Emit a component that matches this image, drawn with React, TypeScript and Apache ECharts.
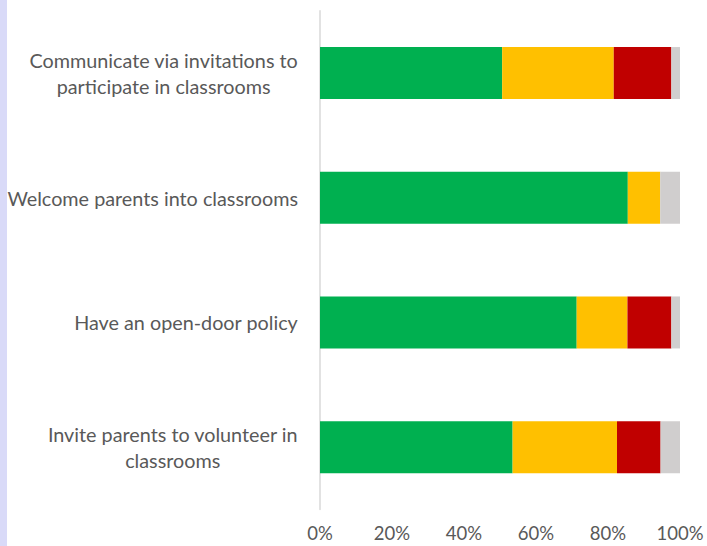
import React, { useEffect, useRef } from "react";
import * as echarts from "echarts";

const categories = [
  "Communicate via invitations to\nparticipate in classrooms",
  "Welcome parents into classrooms",
  "Have an open-door policy",
  "Invite parents to volunteer in\nclassrooms",
];
const greenValues = [50.6, 85.5, 71.3, 53.5];
const yellowValues = [31.0, 9.0, 14.1, 29.0];
const redValues = [16.0, 0, 12.2, 12.1];
const grayValues = [2.4, 5.5, 2.4, 5.4];
const xTicks = [0, 20, 40, 60, 80, 100];

const FONT = "Lato, 'Open Sans', sans-serif";

export default function App() {
  const ref = useRef<HTMLDivElement>(null);
  useEffect(() => {
    document.body.style.margin = "0";
    const chart = echarts.init(ref.current!, null, { renderer: "svg" });
    const mk = (name: string, data: number[], color: string) => ({
      name,
      type: "bar",
      stack: "total",
      data,
      barWidth: 52,
      itemStyle: { color },
    });
    chart.setOption({
      animation: false,
      backgroundColor: "#ffffff",
      textStyle: { fontFamily: FONT },
      graphic: [
        {
          type: "rect",
          left: 0,
          top: 0,
          shape: { x: 0, y: 0, width: 7, height: 546 },
          style: { fill: "#d9daf8" },
          silent: true,
        },
      ],
      grid: { left: 320, right: 27, top: 10.7, bottom: 36.5, containLabel: false },
      xAxis: {
        type: "value",
        min: xTicks[0],
        max: xTicks[xTicks.length - 1],
        interval: xTicks[1] - xTicks[0],
        axisLine: { show: false },
        axisTick: { show: false },
        splitLine: { show: false },
        axisLabel: {
          formatter: "{value}%",
          color: "#595959",
          fontSize: 18.5,
          fontFamily: FONT,
          margin: 14,
        },
      },
      yAxis: {
        type: "category",
        inverse: true,
        data: categories,
        axisLine: { show: true, lineStyle: { color: "#d9d9d9", width: 1.5 } },
        axisTick: { show: false },
        axisLabel: {
          margin: 22,
          formatter: (v: string) =>
            v
              .split("\n")
              .map((l) => `{c|${l}}`)
              .join("\n"),
          rich: {
            c: {
              align: "center",
              color: "#595959",
              fontSize: 19.8,
              fontFamily: FONT,
              lineHeight: 26,
            },
          },
        },
      },
      series: [
        mk("Green", greenValues, "#00b050"),
        mk("Yellow", yellowValues, "#ffc000"),
        mk("Red", redValues, "#c00000"),
        mk("Gray", grayValues, "#d0cece"),
      ],
    });
    return () => chart.dispose();
  }, []);
  return <div ref={ref} style={{ width: 707, height: 546 }} />;
}
